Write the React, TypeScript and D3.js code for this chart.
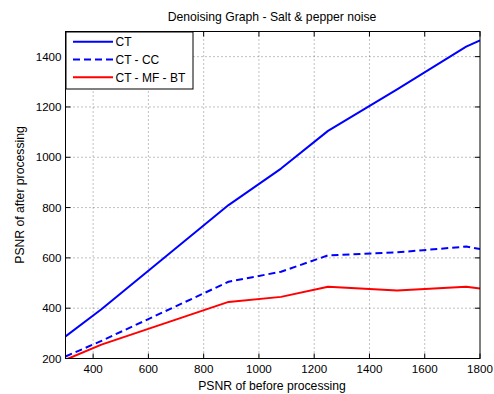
import React from "react";
import * as d3 from "d3";

// PSNR before processing (x) and PSNR after processing for each method
const xValues = [300, 430, 890, 1080, 1250, 1500, 1750, 1800];
const ctValues = [288, 396, 810, 955, 1105, 1270, 1440, 1465];
const ctCcValues = [208, 270, 505, 545, 610, 622, 645, 635];
const ctMfBtValues = [195, 255, 425, 445, 485, 470, 485, 478];

const xTicks = [400, 600, 800, 1000, 1200, 1400, 1600, 1800];
const yTicks = [200, 400, 600, 800, 1000, 1200, 1400];

const seriesNames = ["CT", "CT - CC", "CT - MF - BT"];

const W = 494;
const H = 394;
const M = { left: 65.5, right: 480, top: 31.5, bottom: 358.5 };
const FONT = "'Liberation Sans', Arial, Helvetica, sans-serif";

export default function App() {
  const x = d3.scaleLinear().domain([300, 1800]).range([M.left, M.right]);
  const y = d3.scaleLinear().domain([200, 1500]).range([M.bottom, M.top]);

  const line = (vals: number[]) =>
    d3
      .line<number>()
      .x((_, i) => x(xValues[i]))
      .y((v) => y(v))(vals) as string;

  const series = [
    { name: seriesNames[0], vals: ctValues, color: "#0000ff", dash: undefined },
    { name: seriesNames[1], vals: ctCcValues, color: "#0000ff", dash: "7,4" },
    { name: seriesNames[2], vals: ctMfBtValues, color: "#ff0000", dash: undefined },
  ];

  const tickLen = 5;
  const legend = { x0: 66, y0: 32, x1: 193, y1: 89 };
  const rowY = [41.7, 59.5, 77.3];

  return (
    <svg
      width={W}
      height={H}
      style={{ position: "absolute", left: 0, top: 0, background: "#fff" }}
      fontFamily={FONT}
    >
      <defs>
        <clipPath id="plotClip">
          <rect x={M.left} y={M.top} width={M.right - M.left} height={M.bottom - M.top} />
        </clipPath>
      </defs>
      <rect x={0} y={0} width={W} height={H} fill="#fff" />

      {/* grid */}
      <g stroke="#333" strokeWidth={0.6} strokeDasharray="1,3">
        {xTicks.slice(0, -1).map((t) => (
          <line key={"gx" + t} x1={x(t)} x2={x(t)} y1={M.top} y2={M.bottom} />
        ))}
        {yTicks.slice(1).map((t) => (
          <line key={"gy" + t} x1={M.left} x2={M.right} y1={y(t)} y2={y(t)} />
        ))}
      </g>

      {/* ticks */}
      <g stroke="#000" strokeWidth={1}>
        {xTicks.map((t) => (
          <g key={"tx" + t}>
            <line x1={x(t)} x2={x(t)} y1={M.bottom} y2={M.bottom - tickLen} />
            <line x1={x(t)} x2={x(t)} y1={M.top} y2={M.top + tickLen} />
          </g>
        ))}
        {yTicks.map((t) => (
          <g key={"ty" + t}>
            <line x1={M.left} x2={M.left + tickLen} y1={y(t)} y2={y(t)} />
            <line x1={M.right} x2={M.right - tickLen} y1={y(t)} y2={y(t)} />
          </g>
        ))}
      </g>

      {/* series */}
      <g clipPath="url(#plotClip)">
        {series.map((s) => (
          <path
            key={s.name}
            d={line(s.vals)}
            fill="none"
            stroke={s.color}
            strokeWidth={2}
            strokeDasharray={s.dash}
            strokeLinejoin="round"
          />
        ))}
      </g>

      {/* axes box */}
      <rect
        x={M.left}
        y={M.top}
        width={M.right - M.left}
        height={M.bottom - M.top}
        fill="none"
        stroke="#000"
        strokeWidth={1}
      />

      {/* tick labels */}
      <g fontSize={11.6} fill="#000">
        {xTicks.map((t) => (
          <text key={"lx" + t} x={x(t)} y={M.bottom + 14} textAnchor="middle">
            {t}
          </text>
        ))}
        {yTicks.map((t) => (
          <text key={"ly" + t} x={M.left - 4} y={y(t) + 4} textAnchor="end">
            {t}
          </text>
        ))}
      </g>

      {/* titles */}
      <text x={272} y={21} textAnchor="middle" fontSize={12.2}>
        Denoising Graph - Salt &amp; pepper noise
      </text>
      <text x={272} y={389.5} textAnchor="middle" fontSize={12.2}>
        PSNR of before processing
      </text>
      <text
        transform={`translate(24,${(M.top + M.bottom) / 2}) rotate(-90)`}
        textAnchor="middle"
        fontSize={12.2}
      >
        PSNR of after processing
      </text>

      {/* legend */}
      <rect
        x={legend.x0}
        y={legend.y0}
        width={legend.x1 - legend.x0}
        height={legend.y1 - legend.y0}
        fill="#fff"
        stroke="#000"
        strokeWidth={1}
      />
      {series.map((s, i) => (
        <g key={"lg" + s.name}>
          <line
            x1={73}
            x2={113}
            y1={rowY[i]}
            y2={rowY[i]}
            stroke={s.color}
            strokeWidth={2}
            strokeDasharray={s.dash}
          />
          <text x={115.5} y={rowY[i] + 4.3} fontSize={12}>
            {s.name}
          </text>
        </g>
      ))}
    </svg>
  );
}
